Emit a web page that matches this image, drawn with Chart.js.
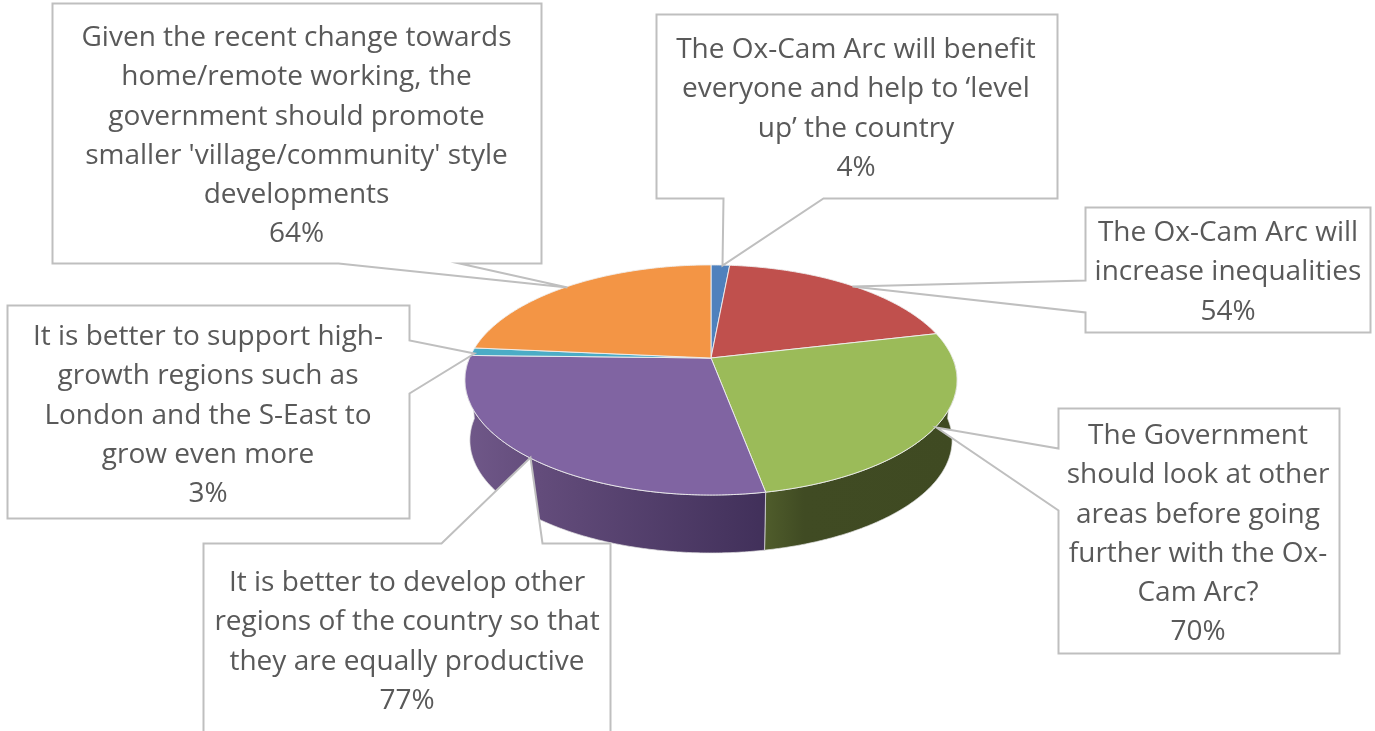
<!DOCTYPE html>
<html>
<head>
<meta charset="utf-8">
<title>Ox-Cam Arc survey</title>
<script src="https://cdn.jsdelivr.net/npm/chart.js@4/dist/chart.umd.min.js"></script>
<style>
  html, body { margin: 0; padding: 0; background: #fff; overflow: hidden; }
  #wrap { width: 1375px; height: 731px; position: relative; }
</style>
</head>
<body>
<div id="wrap"><canvas id="chart" width="1375" height="731"></canvas></div>
<script>
// Data
const categories = [
  ['The Ox-Cam Arc will benefit', 'everyone and help to \u2018level', 'up\u2019 the country'],
  ['The Ox-Cam Arc will', 'increase inequalities'],
  ['The Government', 'should look at other', 'areas before going', 'further with the Ox-', 'Cam Arc?'],
  ['It is better to develop other', 'regions of the country so that', 'they are equally productive'],
  ['It is better to support high-', 'growth regions such as', 'London and the S-East to', 'grow even more'],
  ['Given the recent change towards', 'home/remote working, the', 'government should promote', "smaller 'village/community' style", 'developments']
];
const responses = [4, 54, 70, 77, 3, 64];
const sliceColors = ['#4F81BD', '#C0504D', '#9BBB59', '#8064A2', '#4BACC6', '#F39545'];

// Styling of the visible side walls, [position, colour] along x
const wallShades = {
  2: [[0, '#4F5C2B'], [0.2, '#404B23'], [1, '#3F4A22']],
  3: [[0, '#705889'], [0.25, '#634C7B'], [1, '#41305A']]
};

// Callout outlines (box with its wedge) and where the first text line sits
const calloutShapes = [
  { cx: 856, y: 48, pts: [[656, 14], [1057, 14], [1057, 198], [823, 198], [722, 265], [723, 198], [656, 198]] },
  { cx: 1228, y: 231, pts: [[1085, 207], [1370, 207], [1370, 332], [1085, 332], [1085, 312], [852, 286], [1085, 280]] },
  { cx: 1198, y: 434, pts: [[1058, 408], [1339, 408], [1339, 653], [1058, 653], [1058, 510], [936, 427], [1058, 448]] },
  { cx: 407, y: 581, pts: [[203, 543], [441, 543], [530, 457], [542, 543], [610, 543], [610, 745], [203, 745]] },
  { cx: 208, y: 335, pts: [[7, 305], [409, 305], [409, 340], [474, 353], [409, 393], [409, 518], [7, 518]] },
  { cx: 296.5, y: 36, pts: [[52, 3], [541, 3], [541, 263], [459, 263], [567, 287], [338, 263], [52, 263]] }
];

// Perspective of the tilted pie
const TILT = 0.459;
const PERSPECTIVE = 0.191;
const DEPTH_SHIFT = 60.7;
const DEPTH_SCALE = 0.98;
const LINE_HEIGHT = 39.3;

function project(arc, angle, depth) {
  const c = Math.cos(angle), s = Math.sin(angle);
  const w = 1 - PERSPECTIVE * s;
  const scale = depth ? DEPTH_SCALE : 1;
  return {
    x: arc.x + scale * arc.outerRadius * c / w,
    y: arc.y + (depth ? DEPTH_SHIFT : 0) + scale * TILT * arc.outerRadius * s / w
  };
}

function traceRim(ctx, arc, from, to, depth, first) {
  const steps = Math.max(2, Math.ceil(Math.abs(to - from) / 0.01));
  for (let i = 0; i <= steps; i++) {
    const p = project(arc, from + (to - from) * i / steps, depth);
    if (i === 0 && first) ctx.moveTo(p.x, p.y);
    else ctx.lineTo(p.x, p.y);
  }
}

function drawWall(ctx, arc, index) {
  const shades = wallShades[index];
  if (!shades) return;
  // only the part of the rim that faces the viewer
  const from = Math.max(arc.startAngle, 0);
  const to = Math.min(arc.endAngle, Math.PI);
  if (to <= from) return;

  const left = arc.x + arc.outerRadius * Math.min(Math.cos(from), Math.cos(to)) * 1.02;
  const right = arc.x + arc.outerRadius * Math.max(Math.cos(from), Math.cos(to)) * 1.02;
  const grad = ctx.createLinearGradient(index === 3 ? left : project(arc, to, false).x, 0, index === 3 ? project(arc, from, false).x : right, 0);
  shades.forEach(s => grad.addColorStop(s[0], s[1]));

  ctx.beginPath();
  traceRim(ctx, arc, from, to, false, true);
  traceRim(ctx, arc, to, from, true, false);
  ctx.closePath();
  ctx.fillStyle = grad;
  ctx.fill();
  ctx.strokeStyle = 'rgba(225,225,225,0.7)';
  ctx.lineWidth = 1;
  ctx.stroke();
}

function drawTop(ctx, arc, color) {
  ctx.beginPath();
  ctx.moveTo(arc.x, arc.y);
  traceRim(ctx, arc, arc.startAngle, arc.endAngle, false, false);
  ctx.closePath();
  ctx.fillStyle = color;
  ctx.fill();
  ctx.strokeStyle = 'rgba(240,240,240,0.9)';
  ctx.lineWidth = 1;
  ctx.stroke();
}

function drawCallout(ctx, shape, lines) {
  ctx.beginPath();
  shape.pts.forEach((p, i) => i ? ctx.lineTo(p[0] + 0.5, p[1] + 0.5) : ctx.moveTo(p[0] + 0.5, p[1] + 0.5));
  ctx.closePath();
  ctx.fillStyle = '#FFFFFF';
  ctx.fill();
  ctx.strokeStyle = '#BFBFBF';
  ctx.lineWidth = 2;
  ctx.lineJoin = 'miter';
  ctx.stroke();

  ctx.fillStyle = '#595959';
  ctx.font = '28px "Open Sans"';
  ctx.textAlign = 'center';
  ctx.textBaseline = 'middle';
  lines.forEach((line, i) => ctx.fillText(line, shape.cx, shape.y + 2 + i * LINE_HEIGHT));
}

const tiltedPie = {
  id: 'tiltedPie',
  beforeDatasetsDraw(chart) {
    const ctx = chart.ctx;
    const arcs = chart.getDatasetMeta(0).data;
    ctx.save();
    arcs.forEach((arc, i) => drawWall(ctx, arc, i));
    arcs.forEach((arc, i) => drawTop(ctx, arc, sliceColors[i]));
    ctx.restore();
    return false; // the flat arcs are replaced by the projected ones
  },
  afterDraw(chart) {
    const ctx = chart.ctx;
    ctx.save();
    calloutShapes.forEach((shape, i) => {
      drawCallout(ctx, shape, categories[i].concat(responses[i] + '%'));
    });
    ctx.restore();
  }
};

new Chart(document.getElementById('chart'), {
  type: 'pie',
  data: {
    labels: categories.map(c => c.join(' ')),
    datasets: [{ data: responses, backgroundColor: sliceColors, borderWidth: 0 }]
  },
  options: {
    responsive: false,
    animation: false,
    layout: { padding: { left: 469.5, right: 422.5, top: 116.5, bottom: 131.5 } },
    plugins: { legend: { display: false }, tooltip: { enabled: false } }
  },
  plugins: [tiltedPie]
});
</script>
</body>
</html>
